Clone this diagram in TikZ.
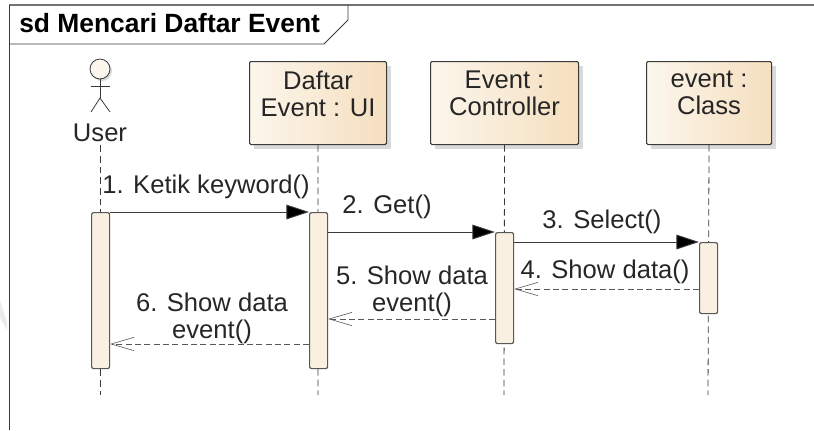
\documentclass[tikz,border=0pt]{standalone}
\usepackage{fontspec}
\setmainfont{Liberation Sans}
\usetikzlibrary{arrows.meta}
\definecolor{ln}{HTML}{3A3A3A}
\definecolor{actfill}{HTML}{F9F0E2}
\definecolor{lleft}{HTML}{FCF6EC}
\definecolor{lright}{HTML}{F5DFBF}
\tikzset{
  x=0.75pt,y=-0.75pt,
  txt/.style={font=\fontsize{19.2}{20.3}\selectfont,text=black!85,align=center,inner sep=0pt},
  objbox/.style={draw=ln,line width=0.8pt,rounded corners=1pt,left color=lleft,right color=lright,inner sep=0pt,anchor=north west},
  boxshadow/.style={fill=black!15,draw=none},
  actbar/.style={draw=ln!85,line width=0.9pt,fill=actfill,rounded corners=1.5pt,inner sep=0pt,anchor=north west,minimum width=13.5pt},
  lifeline/.style={draw=ln,line width=0.6pt,dash pattern=on 5pt off 3pt},
  callmsg/.style={draw=ln,line width=0.7pt,-{Triangle[length=17pt,width=11pt,fill=black]}},
  retmsg/.style={draw=ln!85,line width=0.6pt,dash pattern=on 4.5pt off 2.5pt,-{Straight Barb[length=17pt,width=10pt,line width=0.45pt]}},
  actorln/.style={draw=ln,line width=0.6pt}
}
\begin{document}
\begin{tikzpicture}
\useasboundingbox (0,0) rectangle (814,430);
% stray mark at the left edge
\fill[black!8] (0,300) -- (7,322) -- (7,330) -- (0,318) -- cycle;
% frame
\draw[black!55,line width=0.9pt] (9,5) -- (814,5);
\draw[ln,line width=0.7pt] (9,5) -- (9,430);
\draw[ln,line width=0.6pt] (348,5) -- (348,20) -- (324,44) -- (9,44);
\node[anchor=west,font=\bfseries\fontsize{19.8}{20}\selectfont,text=black,inner sep=0pt] (title) at (19,23.5) {sd Mencari Daftar Event};
% shadows
\fill[boxshadow] (254,66) rectangle (391,149);
\fill[boxshadow] (435,66) rectangle (583,149);
\fill[boxshadow] (651,66) rectangle (776,149);
% objects
\node[objbox,minimum width=102.75pt,minimum height=62.25pt] (ui) at (249,61) {};
\node[txt,anchor=north] at ([yshift=-7.2pt]ui.north) {Daftar\\Event : UI};
\node[objbox,minimum width=111pt,minimum height=62.25pt] (ctl) at (430,61) {};
\node[txt,anchor=north] at ([yshift=-7.2pt]ctl.north) {Event :\\Controller};
\node[objbox,minimum width=93.75pt,minimum height=62.25pt] (cls) at (646,61) {};
\node[txt,anchor=north] at ([yshift=-7.2pt]cls.north) {event :\\Class};
% actor
\fill[black!15] (102,71) circle (10);
\node[circle,draw=ln,line width=0.6pt,fill=lleft,minimum size=15pt,inner sep=0pt] (head) at (100,69) {};
\coordinate (hip) at (100,98);
\coordinate (armL) at (91,86);
\coordinate (armR) at (110,86);
\coordinate (legL) at (91,112);
\coordinate (legR) at (110,112);
\draw[actorln] (head.south) -- (hip);
\draw[actorln] (armL) -- (armR);
\draw[actorln] (legL) -- (hip) -- (legR);
\node[txt] (user) at (100,133) {User};
% lifeline ends
\coordinate (e0) at (100,395);
\coordinate (e1) at (318,395);
\coordinate (e2) at (504,395);
\coordinate (e3) at (708,395);
\draw[lifeline] (user.south) ++(0,3) -- (e0);
\draw[lifeline] (ui.south) -- (e1);
\draw[lifeline] (ctl.south) -- (e2);
\draw[lifeline] (cls.south) -- (e3);
% activations
\node[actbar,minimum height=117pt] (a0) at (91,212) {};
\node[actbar,minimum height=117pt] (a1) at (309,212) {};
\node[actbar,minimum height=83.25pt] (a2) at (495,232) {};
\node[actbar,minimum height=53.25pt] (a3) at (699,242) {};
% messages
\draw[callmsg] (a0.north east) -- (a1.north west);
\draw[callmsg] (a1.east |- a2.north) -- (a2.north west);
\draw[callmsg] (a2.east |- a3.north) -- (a3.north west);
\coordinate (y4) at (0,289);
\coordinate (y5) at (0,319);
\coordinate (y6) at (0,344);
\draw[retmsg] (a3.west |- y4) -- (a2.east |- y4);
\draw[retmsg] (a2.west |- y5) -- (a1.east |- y5);
\draw[retmsg] (a1.west |- y6) -- (a0.east |- y6);
% labels
\node[txt] (l1) at (206,187) {1. Ketik keyword()};
\node[txt] (l2) at (387,207) {2. Get()};
\node[txt] (l3) at (602,222) {3. Select()};
\node[txt] (l4) at (605,272) {4. Show data()};
\node[txt] (l5) at (412,291) {5. Show data\\event()};
\node[txt] (l6) at (212,318) {6. Show data\\event()};
\end{tikzpicture}
\end{document}
